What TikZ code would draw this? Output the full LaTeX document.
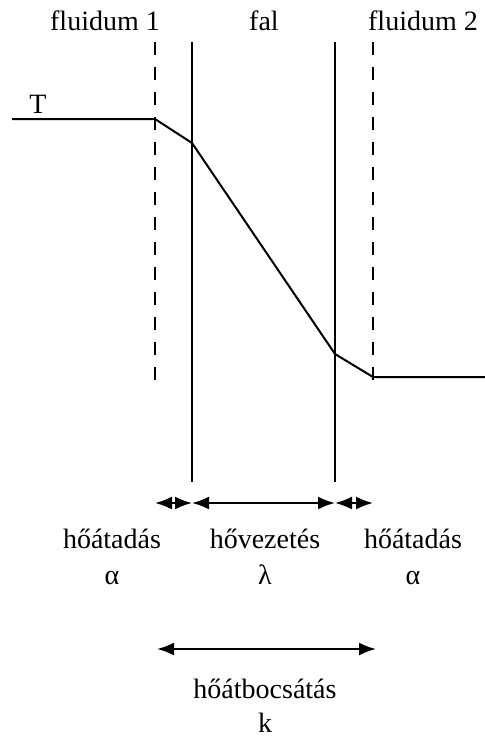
\documentclass[tikz,border=0pt]{standalone}
\usepackage{fontspec}
\setmainfont{Liberation Serif}
\usetikzlibrary{arrows.meta}
\begin{document}
\begin{tikzpicture}[x=1pt,y=-1pt,
  lbl/.style={font=\fontsize{28}{32}\selectfont, inner sep=0pt, anchor=base},
  wall/.style={line width=2pt},
  interface/.style={line width=2pt, dash pattern=on 13pt off 12pt},
  curve/.style={line width=2pt, line join=miter},
  dim/.style={line width=2pt, {Latex[length=17pt,width=13pt]}-{Latex[length=17pt,width=13pt]}}]
\useasboundingbox (0,0) rectangle (485,737);
% top labels
\node[lbl] (f1) at (105,30) {fluidum 1};
\node[lbl] (fal) at (264,30) {fal};
\node[lbl] (f2) at (423,30) {fluidum 2};
\node[lbl] (T) at (38,113) {T};
% vertical lines
\coordinate (d1t) at (155,42); \coordinate (d1b) at (155,382);
\coordinate (w1t) at (192,42); \coordinate (w1b) at (192,482);
\coordinate (w2t) at (335,42); \coordinate (w2b) at (335,482);
\coordinate (d2t) at (373,42); \coordinate (d2b) at (373,382);
\draw[interface] (d1t) -- (d1b);
\draw[interface] (d2t) -- (d2b);
\draw[wall] (w1t) -- (w1b);
\draw[wall] (w2t) -- (w2b);
% temperature profile
\coordinate (p0) at (12,119);
\coordinate (p1) at (155,119);
\coordinate (p2) at (192,143);
\coordinate (p3) at (335,354);
\coordinate (p4) at (373,377);
\coordinate (p5) at (485,377);
\draw[curve] (p0) -- (p1) -- (p2) -- (p3) -- (p4) -- (p5);
% dimension arrows
\coordinate (a1) at (155,503); \coordinate (a2) at (192,503);
\coordinate (a3) at (335,503); \coordinate (a4) at (373,503);
\draw[dim] (a1) -- (a2);
\draw[dim] (a2) -- (a3);
\draw[dim] (a3) -- (a4);
% labels
\node[lbl] (h1) at (112,548) {hőátadás};
\node[lbl] (al1) at (112,584) {α};
\node[lbl] (hv) at (265,548) {hővezetés};
\node[lbl] (lam) at (265,584) {λ};
\node[lbl] (h2) at (413,548) {hőátadás};
\node[lbl] (al2) at (413,584) {α};
% overall
\coordinate (b1) at (157,649); \coordinate (b2) at (376,649);
\draw[dim] (b1) -- (b2);
\node[lbl] (hb) at (265,698) {hőátbocsátás};
\node[lbl] (k) at (265,732) {k};
\end{tikzpicture}
\end{document}
